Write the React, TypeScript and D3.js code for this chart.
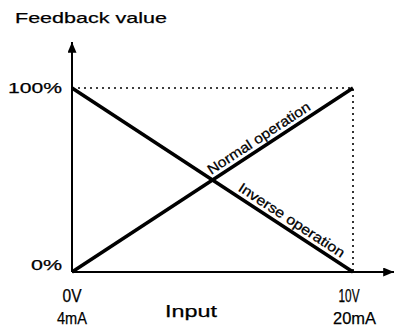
import { useRef, useEffect } from 'react';
import * as d3 from 'd3';

const inputDomain = [0, 10];
const feedbackDomain = [0, 100];
const normalLine = [[0, 0], [10, 100]];
const inverseLine = [[0, 100], [10, 0]];
const yTicks = [{ v: 0, label: '0%' }, { v: 100, label: '100%' }];
const xTicks = [{ v: 0, top: '0V', bottom: '4mA' }, { v: 10, top: '10V', bottom: '20mA' }];

export default function App() {
  const svgRef = useRef<SVGSVGElement>(null);

  useEffect(() => {
    if (!svgRef.current) return;
    const width = 395;
    const height = 327;
    const svg = d3.select(svgRef.current);
    svg.selectAll('*').remove();
    svg.attr('width', width).attr('height', height);

    const x = d3.scaleLinear().domain(inputDomain).range([72, 353]);
    const y = d3.scaleLinear().domain(feedbackDomain).range([272, 88]);
    const font = 'Liberation Sans, Arial, sans-serif';

    const defs = svg.append('defs');
    defs.append('marker')
      .attr('id', 'arr')
      .attr('viewBox', '0 0 12 10')
      .attr('refX', 12).attr('refY', 5)
      .attr('markerWidth', 12).attr('markerHeight', 9)
      .attr('markerUnits', 'userSpaceOnUse')
      .attr('orient', 'auto')
      .append('path').attr('d', 'M0,0 L12,5 L0,10 Z').attr('fill', '#000');

    // dotted guides
    svg.append('path')
      .attr('d', `M${x(0)},${y(100)} H${x(10)} V${y(0)}`)
      .attr('fill', 'none')
      .attr('stroke', '#000')
      .attr('stroke-width', 1.6)
      .attr('stroke-dasharray', '2,4');

    // axes
    svg.append('line')
      .attr('x1', x(0)).attr('y1', y(0)).attr('x2', x(0)).attr('y2', 42)
      .attr('stroke', '#000').attr('stroke-width', 2).attr('marker-end', 'url(#arr)');
    svg.append('line')
      .attr('x1', x(0)).attr('y1', y(0)).attr('x2', 394).attr('y2', y(0))
      .attr('stroke', '#000').attr('stroke-width', 2).attr('marker-end', 'url(#arr)');

    const line = d3.line<number[]>().x(d => x(d[0])).y(d => y(d[1]));
    [normalLine, inverseLine].forEach(d => {
      svg.append('path').attr('d', line(d)).attr('fill', 'none')
        .attr('stroke', '#000').attr('stroke-width', 3.5);
    });

    const txt = (sel: any) => sel.attr('font-family', font).attr('lengthAdjust', 'spacingAndGlyphs')
      .attr('stroke', '#000').attr('stroke-width', 0.25);

    const angle = Math.atan2(y(100) - y(0), x(10) - x(0)) * 180 / Math.PI;
    svg.append('text')
      .attr('transform', `translate(${x(5.05)},${y(50.5)}) rotate(${angle}) translate(0,-5)`)
      .attr('font-size', 14).attr('textLength', 120)
      .call(txt)
      .text('Normal operation');
    svg.append('text')
      .attr('transform', `translate(${x(5.78)},${y(42.2)}) rotate(${-angle}) translate(0,-5)`)
      .attr('font-size', 14).attr('textLength', 124)
      .call(txt)
      .text('Inverse operation');

    const yWidths = [31, 54];
    svg.selectAll('.ylab').data(yTicks).join('text')
      .attr('x', 62).attr('y', d => y(d.v) + (d.v === 0 ? -2 : 5))
      .attr('text-anchor', 'end')
      .attr('font-size', 15.5)
      .attr('textLength', (d, i) => yWidths[i])
      .call(txt)
      .text(d => d.label);

    const topW = [19, 21];
    const botW = [30, 43];
    xTicks.forEach((t, i) => {
      const cx = i === 0 ? x(t.v) : x(t.v) - 4;
      svg.append('text').attr('x', cx - topW[i] / 2).attr('y', 302)
        .attr('font-size', 18).attr('textLength', topW[i])
        .call(txt)
        .text(t.top);
      const bx = i === 0 ? x(t.v) : x(t.v) + 1.5;
      svg.append('text').attr('x', bx - botW[i] / 2).attr('y', 324)
        .attr('font-size', 17).attr('textLength', botW[i])
        .call(txt)
        .text(t.bottom);
    });

    svg.append('text').attr('x', 165).attr('y', 317)
      .attr('font-size', 17).attr('textLength', 52)
      .call(txt)
      .text('Input');
    svg.append('text').attr('x', 15).attr('y', 23)
      .attr('font-size', 15.5).attr('textLength', 152)
      .call(txt)
      .text('Feedback value');
  }, []);

  return <svg ref={svgRef} style={{ position: 'absolute', left: 0, top: 0 }} />;
}
